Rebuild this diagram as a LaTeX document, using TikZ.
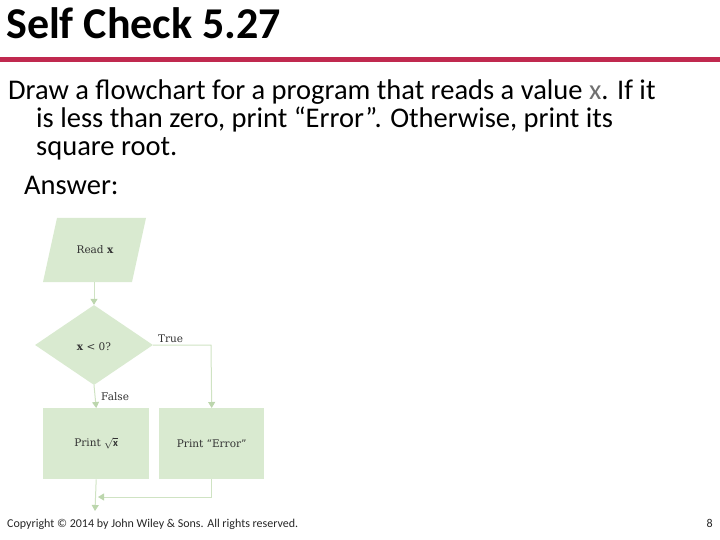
\documentclass[tikz,border=0pt]{standalone}
\usepackage{fontspec}
\setmainfont{Carlito}
\newfontfamily\flowfont{DejaVu Serif}
\usetikzlibrary{arrows.meta,shapes.geometric}
\definecolor{boxfill}{HTML}{D9EAD0}
\definecolor{linegreen}{HTML}{CFE3C3}
\definecolor{tipgreen}{HTML}{BCD6AD}
\definecolor{rulered}{HTML}{C0294F}
\definecolor{xgray}{HTML}{707070}
\tikzset{
  flowbox/.style={fill=boxfill, draw=none, font=\flowfont\fontsize{10.5}{13}\selectfont, text=black!80},
  flowline/.style={draw=linegreen, line width=1pt},
  flowarrow/.style={flowline, -{Triangle[length=6pt, width=7pt, fill=tipgreen, color=tipgreen]}},
  lbl/.style={font=\flowfont\fontsize{10.5}{13}\selectfont, text=black!80, inner sep=0pt},
  bodytext/.style={anchor=base west, inner sep=0pt, font=\fontsize{28.5}{30}\selectfont},
}
\begin{document}
\begin{tikzpicture}[x=1pt,y=-1pt]
\useasboundingbox (0,0) rectangle (720,540);
% title
\node[anchor=base west, inner sep=0pt, font=\bfseries\fontsize{44}{46}\selectfont] (title) at (6,39) {Self Check 5.27};
\fill[rulered] (0,57.5) rectangle (720,62);
% body text
\node[bodytext] (l1) at (8,100) {Draw a flowchart for a program that reads a value {\color{xgray}x}. If it};
\node[bodytext] (l2) at (36,128) {is less than zero, print “Error”. Otherwise, print its};
\node[bodytext] (l3) at (36,156) {square root.};
\node[bodytext] (ans) at (24,195) {Answer:};
% flowchart
\fill[boxfill] (57,218) -- (146,218) -- (132,282) -- (43,282) -- cycle;
\node[lbl] (read) at (95,250) {Read \textbf{x}};
\coordinate (readb) at (94,282);
\node[flowbox, diamond, minimum width=118pt, minimum height=80pt, inner sep=0pt] (dec) at (94,345) {};
\node[lbl] at (94,347) {\textbf{x} < 0?};
\node[flowbox, minimum width=106pt, minimum height=71pt, anchor=north west] (p1) at (43,408) {Print $\sqrt{\mathbf{x}}$};
\node[flowbox, minimum width=105pt, minimum height=71pt, anchor=north west] (p2) at (159,408) {Print “Error”};
\draw[flowarrow] (readb) -- (dec.north);
\draw[flowarrow] (dec.east) -- (211,345) -- (p2.north);
\draw[flowarrow] (dec.south) -- (p1.north);
\node[lbl, anchor=base west] (tl) at (158,342) {True};
\node[lbl, anchor=base west] (fl) at (101,400) {False};
\coordinate (out) at (95,511);
\coordinate (join) at (98,497);
\draw[flowarrow] (p1.south) -- (out);
\draw[flowarrow] (p2.south) |- (join);
% footer
\node[anchor=base west, inner sep=0pt, font=\fontsize{12}{14}\selectfont, text=black!85] (copy) at (7,527) {Copyright © 2014 by John Wiley \& Sons. All rights reserved.};
\node[anchor=base east, inner sep=0pt, font=\fontsize{12}{14}\selectfont, text=black!85] (pg) at (713,527) {8};
\end{tikzpicture}
\end{document}
